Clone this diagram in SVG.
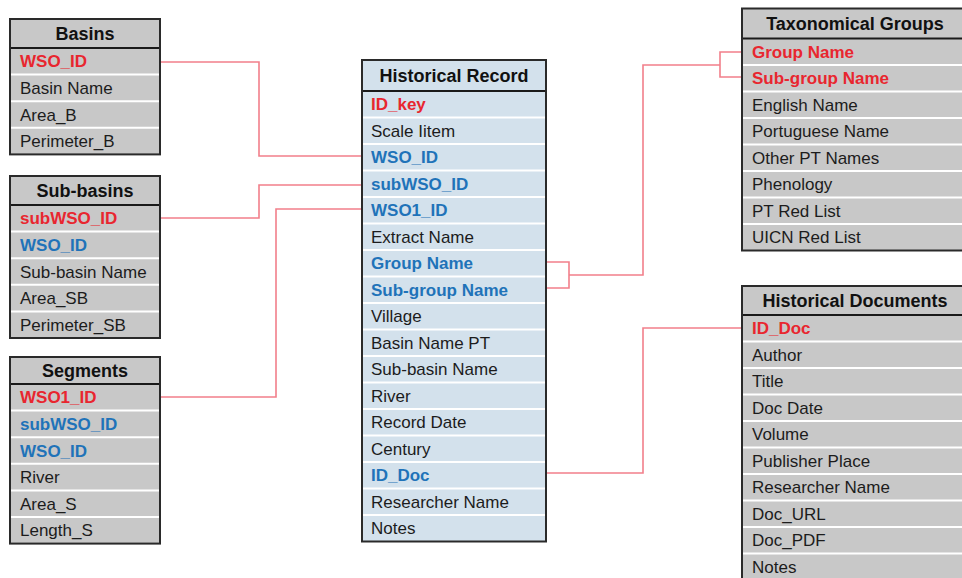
<svg xmlns="http://www.w3.org/2000/svg" width="962" height="578" viewBox="0 0 962 578">
<style>
  text { font-family: "Liberation Sans", Arial, sans-serif; font-size: 17px; fill: #1c1c1c; }
  .title { font-weight: bold; font-size: 18px; text-anchor: middle; fill: #111; }
  .pk { font-weight: bold; fill: #e8262f; }
  .fk { font-weight: bold; fill: #1f73b9; }
  .gray { fill: #c8c8c8; }
  .blue { fill: #d3e1ec; }
  .frame { fill: none; stroke: #2a2a2a; stroke-width: 2; }
  .hdr { stroke: #1a1a1a; stroke-width: 2; }
  .sep { stroke: #ffffff; stroke-width: 2; }
  .conn { fill: none; stroke: #f27f8a; stroke-width: 1.6; }
</style>
<rect width="962" height="578" fill="#ffffff"/>

<g id="connectors">
  <path class="conn" d="M160,62 H259 V156 H362"/>
  <path class="conn" d="M160,218 H259 V185 H362"/>
  <path class="conn" d="M160,397 H276 V209 H362"/>
  <path class="conn" d="M546,262 H569 V288 H546 M569,275 H643 V65 H720 M742,52 H720 V77 H742"/>
  <path class="conn" d="M546,473 H643 V328 H742"/>
</g>

<g id="basins">
  <rect class="gray" x="10" y="19" width="150" height="135.4"/>
  <line class="sep" x1="11" y1="74.6" x2="159" y2="74.6"/>
  <line class="sep" x1="11" y1="101.2" x2="159" y2="101.2"/>
  <line class="sep" x1="11" y1="127.8" x2="159" y2="127.8"/>
  <line class="hdr" x1="10" y1="48" x2="160" y2="48"/>
  <rect class="frame" x="10" y="19" width="150" height="135.4"/>
  <text class="title" x="85" y="40">Basins</text>
  <text class="pk" x="20" y="67.3">WSO_ID</text>
  <text x="20" y="93.9">Basin Name</text>
  <text x="20" y="120.5">Area_B</text>
  <text x="20" y="147.1">Perimeter_B</text>
</g>

<g id="sub-basins">
  <rect class="gray" x="10" y="176" width="150" height="162"/>
  <line class="sep" x1="11" y1="231.6" x2="159" y2="231.6"/>
  <line class="sep" x1="11" y1="258.2" x2="159" y2="258.2"/>
  <line class="sep" x1="11" y1="284.8" x2="159" y2="284.8"/>
  <line class="sep" x1="11" y1="311.4" x2="159" y2="311.4"/>
  <line class="hdr" x1="10" y1="205" x2="160" y2="205"/>
  <rect class="frame" x="10" y="176" width="150" height="162"/>
  <text class="title" x="85" y="197">Sub-basins</text>
  <text class="pk" x="20" y="224.3">subWSO_ID</text>
  <text class="fk" x="20" y="250.9">WSO_ID</text>
  <text x="20" y="277.5">Sub-basin Name</text>
  <text x="20" y="304.1">Area_SB</text>
  <text x="20" y="330.7">Perimeter_SB</text>
</g>

<g id="segments">
  <rect class="gray" x="10" y="357" width="150" height="186.6"/>
  <line class="sep" x1="11" y1="410.6" x2="159" y2="410.6"/>
  <line class="sep" x1="11" y1="437.2" x2="159" y2="437.2"/>
  <line class="sep" x1="11" y1="463.8" x2="159" y2="463.8"/>
  <line class="sep" x1="11" y1="490.4" x2="159" y2="490.4"/>
  <line class="sep" x1="11" y1="517" x2="159" y2="517"/>
  <line class="hdr" x1="10" y1="384" x2="160" y2="384"/>
  <rect class="frame" x="10" y="357" width="150" height="186.6"/>
  <text class="title" x="85" y="377">Segments</text>
  <text class="pk" x="20" y="403.3">WSO1_ID</text>
  <text class="fk" x="20" y="429.9">subWSO_ID</text>
  <text class="fk" x="20" y="456.5">WSO_ID</text>
  <text x="20" y="483.1">River</text>
  <text x="20" y="509.7">Area_S</text>
  <text x="20" y="536.3">Length_S</text>
</g>

<g id="historical-record">
  <rect class="blue" x="362" y="60" width="184" height="481.5"/>
  <g class="sep">
    <line x1="363" y1="117.5" x2="545" y2="117.5"/>
    <line x1="363" y1="144" x2="545" y2="144"/>
    <line x1="363" y1="170.5" x2="545" y2="170.5"/>
    <line x1="363" y1="197" x2="545" y2="197"/>
    <line x1="363" y1="223.5" x2="545" y2="223.5"/>
    <line x1="363" y1="250" x2="545" y2="250"/>
    <line x1="363" y1="276.5" x2="545" y2="276.5"/>
    <line x1="363" y1="303" x2="545" y2="303"/>
    <line x1="363" y1="329.5" x2="545" y2="329.5"/>
    <line x1="363" y1="356" x2="545" y2="356"/>
    <line x1="363" y1="382.5" x2="545" y2="382.5"/>
    <line x1="363" y1="409" x2="545" y2="409"/>
    <line x1="363" y1="435.5" x2="545" y2="435.5"/>
    <line x1="363" y1="462" x2="545" y2="462"/>
    <line x1="363" y1="488.5" x2="545" y2="488.5"/>
    <line x1="363" y1="515" x2="545" y2="515"/>
  </g>
  <line class="hdr" x1="362" y1="91" x2="546" y2="91"/>
  <rect class="frame" x="362" y="60" width="184" height="481.5"/>
  <text class="title" x="454" y="82">Historical Record</text>
  <text class="pk" x="371" y="110.25">ID_key</text>
  <text x="371" y="136.75">Scale Iitem</text>
  <text class="fk" x="371" y="163.25">WSO_ID</text>
  <text class="fk" x="371" y="189.75">subWSO_ID</text>
  <text class="fk" x="371" y="216.25">WSO1_ID</text>
  <text x="371" y="242.75">Extract Name</text>
  <text class="fk" x="371" y="269.25">Group Name</text>
  <text class="fk" x="371" y="295.75">Sub-group Name</text>
  <text x="371" y="322.25">Village</text>
  <text x="371" y="348.75">Basin Name PT</text>
  <text x="371" y="375.25">Sub-basin Name</text>
  <text x="371" y="401.75">River</text>
  <text x="371" y="428.25">Record Date</text>
  <text x="371" y="454.75">Century</text>
  <text class="fk" x="371" y="481.25">ID_Doc</text>
  <text x="371" y="507.75">Researcher Name</text>
  <text x="371" y="534.25">Notes</text>
</g>

<g id="taxonomical-groups">
  <rect class="gray" x="742" y="8.5" width="225" height="242"/>
  <g class="sep">
    <line x1="743" y1="65" x2="962" y2="65"/>
    <line x1="743" y1="91.5" x2="962" y2="91.5"/>
    <line x1="743" y1="118" x2="962" y2="118"/>
    <line x1="743" y1="144.5" x2="962" y2="144.5"/>
    <line x1="743" y1="171" x2="962" y2="171"/>
    <line x1="743" y1="197.5" x2="962" y2="197.5"/>
    <line x1="743" y1="224" x2="962" y2="224"/>
  </g>
  <line class="hdr" x1="742" y1="38.5" x2="962" y2="38.5"/>
  <rect class="frame" x="742" y="8.5" width="225" height="242"/>
  <text class="title" x="855" y="30">Taxonomical Groups</text>
  <text class="pk" x="752" y="57.75">Group Name</text>
  <text class="pk" x="752" y="84.25">Sub-group Name</text>
  <text x="752" y="110.75">English Name</text>
  <text x="752" y="137.25">Portuguese Name</text>
  <text x="752" y="163.75">Other PT Names</text>
  <text x="752" y="190.25">Phenology</text>
  <text x="752" y="216.75">PT Red List</text>
  <text x="752" y="243.25">UICN Red List</text>
</g>

<g id="historical-documents">
  <rect class="gray" x="742" y="286" width="225" height="296"/>
  <g class="sep">
    <line x1="743" y1="341.5" x2="962" y2="341.5"/>
    <line x1="743" y1="368" x2="962" y2="368"/>
    <line x1="743" y1="394.5" x2="962" y2="394.5"/>
    <line x1="743" y1="421" x2="962" y2="421"/>
    <line x1="743" y1="447.5" x2="962" y2="447.5"/>
    <line x1="743" y1="474" x2="962" y2="474"/>
    <line x1="743" y1="500.5" x2="962" y2="500.5"/>
    <line x1="743" y1="527" x2="962" y2="527"/>
    <line x1="743" y1="553.5" x2="962" y2="553.5"/>
  </g>
  <line class="hdr" x1="742" y1="315" x2="962" y2="315"/>
  <rect class="frame" x="742" y="286" width="225" height="296"/>
  <text class="title" x="855" y="307">Historical Documents</text>
  <text class="pk" x="752" y="334.25">ID_Doc</text>
  <text x="752" y="360.75">Author</text>
  <text x="752" y="387.25">Title</text>
  <text x="752" y="413.75">Doc Date</text>
  <text x="752" y="440.25">Volume</text>
  <text x="752" y="466.75">Publisher Place</text>
  <text x="752" y="493.25">Researcher Name</text>
  <text x="752" y="519.75">Doc_URL</text>
  <text x="752" y="546.25">Doc_PDF</text>
  <text x="752" y="572.75">Notes</text>
</g>
</svg>
